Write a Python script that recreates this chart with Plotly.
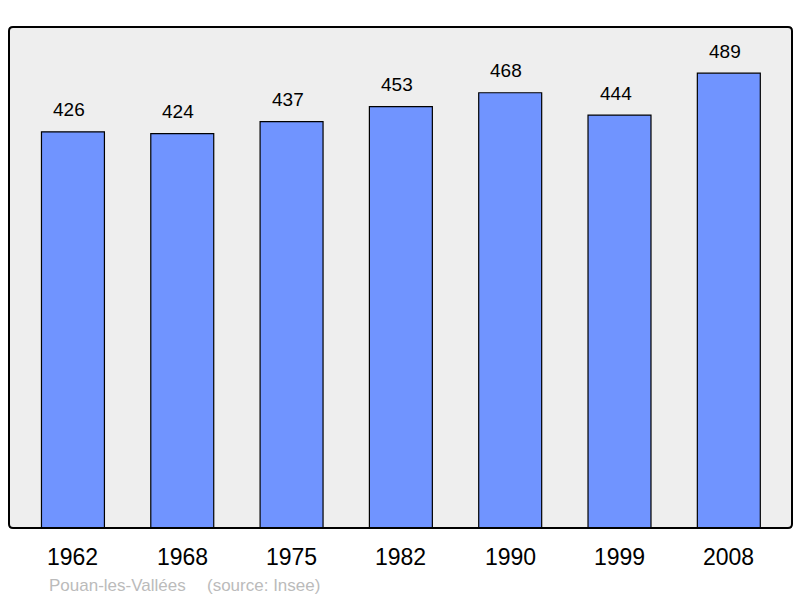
import plotly.graph_objects as go

years = ["1962", "1968", "1975", "1982", "1990", "1999", "2008"]
population = [426, 424, 437, 453, 468, 444, 489]
footer_place = "Pouan-les-Vallées"
footer_source = "(source: Insee)"

W, H = 800, 598
ml, mr, mt, mb = 9, 8, 27, 70
pw, ph = W - ml - mr, H - mt - mb

xs = list(range(len(years)))

fig = go.Figure()
fig.add_trace(go.Bar(
    x=xs, y=population, width=0.576,
    marker=dict(color="#7094ff", line=dict(color="#000000", width=1.2)),
    hoverinfo="skip",
))

ann = []
for x, v in zip(xs, population):
    ann.append(dict(x=x, y=v, xref="x", yref="y", text=str(v), showarrow=False,
                    yanchor="middle", yshift=22, xshift=-4,
                    font=dict(family="Liberation Sans, Arial", size=19, color="#000")))
for x, t in zip(xs, years):
    ann.append(dict(x=x, y=0, xref="x", yref="y", text=t, showarrow=False,
                    yanchor="middle", yshift=-29,
                    font=dict(family="Liberation Sans, Arial", size=23, color="#000")))
fy = (528 - 585) / ph
ann.append(dict(x=(47 - ml) / pw, y=fy, xref="paper", yref="paper", showarrow=False,
                xanchor="left", yanchor="middle", text=footer_place,
                font=dict(family="Liberation Sans, Arial", size=17, color="#bbbbbb")))
ann.append(dict(x=(205 - ml) / pw, y=fy, xref="paper", yref="paper", showarrow=False,
                xanchor="left", yanchor="middle", text=footer_source,
                font=dict(family="Liberation Sans, Arial", size=17, color="#bbbbbb")))

# rounded frame in paper coords
r = 4
rx, ry = r / pw, r / ph
path = (f"M {rx},0 L {1-rx},0 Q 1,0 1,{ry} L 1,{1-ry} Q 1,1 {1-rx},1 "
        f"L {rx},1 Q 0,1 0,{1-ry} L 0,{ry} Q 0,0 {rx},0 Z")

fig.update_layout(
    width=W, height=H,
    margin=dict(l=ml, r=mr, t=mt, b=mb),
    paper_bgcolor="#ffffff", plot_bgcolor="#eeeeee",
    showlegend=False,
    xaxis=dict(range=[-0.585, 6.578], showticklabels=False, showgrid=False,
               zeroline=False, ticks=""),
    yaxis=dict(range=[0, 538.7], showticklabels=False, showgrid=False,
               zeroline=False, ticks=""),
    annotations=ann,
    shapes=[dict(type="path", xref="paper", yref="paper", path=path,
                 line=dict(color="#000000", width=2), layer="above")],
)

fig.write_html("out.html", config={"displayModeBar": False},
               post_script="document.body.style.margin='0px';document.body.style.overflow='hidden';")
